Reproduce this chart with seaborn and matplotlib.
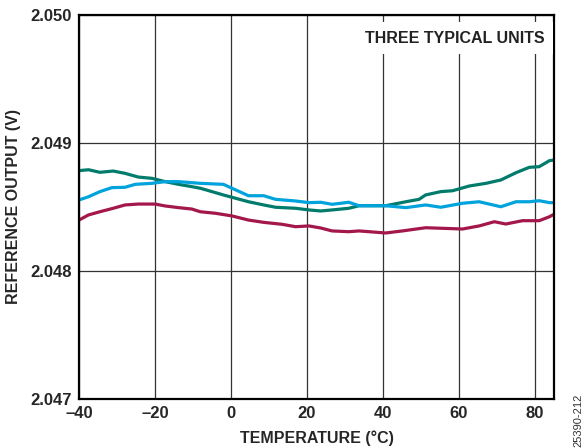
import matplotlib
matplotlib.use("Agg")
import matplotlib.pyplot as plt
import seaborn as sns
import pandas as pd

# three typical units, reference output (V) vs temperature (°C)
temp_a = [-40, -37.5, -34.5, -31, -27.9, -24.4, -20.8, -17.3, -13.8, -10.3, -8, -2,
          4.6, 8.6, 11.7, 17, 20.5, 23.6, 26.6, 31, 33.7, 40.7, 46, 49.5, 51.2, 55.2,
          58.3, 62.7, 67.1, 71, 75, 78.5, 81.1, 83.8, 85]
volt_a = [2.048784, 2.048791, 2.048771, 2.048781, 2.048763, 2.048734, 2.048724, 2.048698,
          2.048677, 2.048659, 2.048646, 2.048594, 2.048541, 2.048516, 2.048498, 2.048490,
          2.048477, 2.048469, 2.048477, 2.048490, 2.048510, 2.048510, 2.048541, 2.048560,
          2.048594, 2.048620, 2.048627, 2.048664, 2.048685, 2.048711, 2.048768, 2.048810,
          2.048815, 2.048862, 2.048867]

temp_b = [-40, -37.5, -34.5, -31.4, -27.9, -25.2, -20.8, -17.3, -13.8, -8.1, -2, 0.3,
          4.6, 8.6, 11.7, 17, 20.5, 23.6, 26.6, 31, 33.7, 40.7, 46, 51.2, 55.2, 60.9,
          65.3, 71, 75, 78.5, 81.1, 83.8, 85]
volt_b = [2.048555, 2.048580, 2.048620, 2.048651, 2.048654, 2.048677, 2.048685, 2.048698,
          2.048698, 2.048685, 2.048677, 2.048646, 2.048588, 2.048588, 2.048560, 2.048547,
          2.048534, 2.048537, 2.048521, 2.048537, 2.048510, 2.048510, 2.048495, 2.048516,
          2.048498, 2.048529, 2.048541, 2.048502, 2.048541, 2.048541, 2.048549, 2.048534,
          2.048534]

temp_c = [-40, -37.5, -34.5, -31, -27.9, -24.4, -20, -17.3, -13.8, -10.3, -8.1, -4.1,
          0.3, 4.6, 8.6, 13.4, 17, 20.5, 23.6, 26.6, 31, 33.7, 40.7, 45.1, 51.2, 55.2,
          60.9, 65.3, 69.3, 72.3, 76.7, 81.1, 83.8, 85]
volt_c = [2.048398, 2.048438, 2.048463, 2.048490, 2.048516, 2.048523, 2.048523, 2.048508,
          2.048495, 2.048484, 2.048463, 2.048451, 2.048430, 2.048398, 2.048380, 2.048365,
          2.048346, 2.048352, 2.048336, 2.048313, 2.048307, 2.048313, 2.048297, 2.048313,
          2.048338, 2.048334, 2.048328, 2.048352, 2.048385, 2.048367, 2.048393, 2.048393,
          2.048424, 2.048443]

x_ticks = [-40, -20, 0, 20, 40, 60, 80]
y_ticks = [2.047, 2.048, 2.049, 2.050]
unit_colors = {"A": "#007b6c", "B": "#00a3dc", "C": "#a3174a"}

df = pd.concat([
    pd.DataFrame({"temp": temp_a, "volt": volt_a, "unit": "A"}),
    pd.DataFrame({"temp": temp_b, "volt": volt_b, "unit": "B"}),
    pd.DataFrame({"temp": temp_c, "volt": volt_c, "unit": "C"}),
])

sns.set_style("white")
plt.rcParams["font.family"] = ["Liberation Sans", "DejaVu Sans"]

fig = plt.figure(figsize=(5.87, 4.48), dpi=100)
ax = fig.add_axes([0.1346, 0.1094, 0.8092, 0.8571])

sns.lineplot(data=df, x="temp", y="volt", hue="unit", palette=unit_colors,
             linewidth=2.3, legend=False, sort=False, estimator=None, ax=ax, zorder=3)

ax.set_xlim(-40, 85)
ax.set_ylim(2.047, 2.050)
ax.set_xticks(x_ticks)
ax.set_xticklabels([str(t).replace("-", "\u2013") for t in x_ticks],
                   fontweight="bold", fontsize=12)
ax.set_yticks(y_ticks)
ax.set_yticklabels([f"{v:.3f}" for v in y_ticks], fontweight="bold", fontsize=12)
ax.tick_params(length=0, pad=5)
ax.grid(True, color="#333333", linewidth=0.9)
for s in ax.spines.values():
    s.set_color("black")
    s.set_linewidth(1.6)
    s.set_zorder(4)

ax.set_xlabel("TEMPERATURE (°C)", fontweight="bold", fontsize=11.5, labelpad=7)
ax.set_ylabel("REFERENCE OUTPUT (V)", fontweight="bold", fontsize=11.5, labelpad=7)

ax.text(0.981, 0.94, "THREE TYPICAL UNITS", transform=ax.transAxes, ha="right",
        va="center", fontweight="bold", fontsize=11.5, color="#222222", zorder=5,
        bbox=dict(facecolor="white", edgecolor="none", pad=6))

fig.text(0.985, 0.003, "25390-212", rotation=90, ha="center", va="bottom",
         fontsize=8, color="#333333")

fig.savefig("out.png", dpi=100)
